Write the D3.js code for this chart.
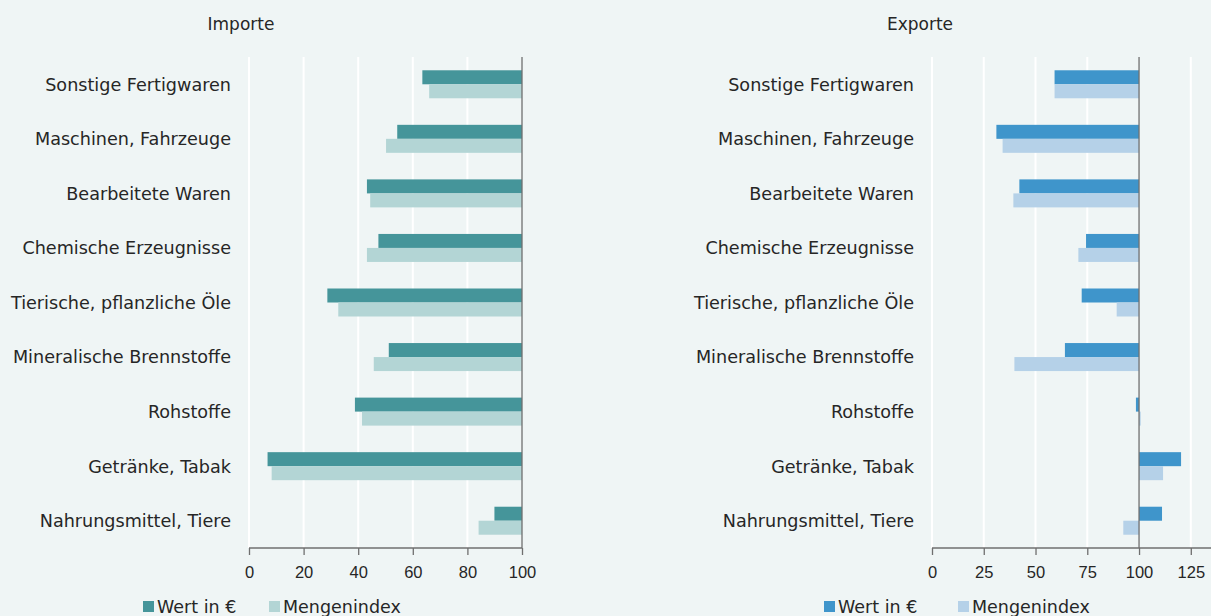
<!DOCTYPE html>
<html><head><meta charset="utf-8">
<script src="https://cdn.jsdelivr.net/npm/d3@7"></script>
<style>
html,body{margin:0;padding:0;background:#eff5f5;}
svg{display:block;font-family:"DejaVu Sans",sans-serif;}
</style></head><body>
<svg id="c" width="1211" height="616"></svg>
<script>
const categories = ["Sonstige Fertigwaren","Maschinen, Fahrzeuge","Bearbeitete Waren","Chemische Erzeugnisse","Tierische, pflanzliche Öle","Mineralische Brennstoffe","Rohstoffe","Getränke, Tabak","Nahrungsmittel, Tiere"];
const importWert = [63.5, 54.3, 43.2, 47.4, 28.7, 51.2, 38.8, 6.8, 89.9];
const importMenge = [66.0, 50.2, 44.4, 43.2, 32.7, 45.7, 41.4, 8.3, 84.1];
const exportWert = [59.2, 31.1, 42.2, 74.4, 72.3, 64.2, 98.5, 120.3, 111.1];
const exportMenge = [59.2, 34.1, 39.3, 70.7, 89.2, 39.8, 100.8, 111.6, 92.4];
const importTicks = [0, 20, 40, 60, 80, 100];
const exportTicks = [0, 25, 50, 75, 100, 125];
const seriesNames = ["Wert in €", "Mengenindex"];

const svg = d3.select("#c");
const plotTop = 57, plotBottom = 548;
const TXT = "#262626";

function panel(cfg){
  const g = svg.append("g");
  const x = d3.scaleLinear().domain(cfg.domain).range(cfg.range);
  const y = d3.scaleBand().domain(categories).range([plotTop, plotBottom]);
  g.selectAll("line.grid").data(cfg.ticks.filter(t => t !== 100)).enter().append("line")
    .attr("x1", d => x(d)).attr("x2", d => x(d)).attr("y1", plotTop).attr("y2", plotBottom)
    .attr("stroke", "#ffffff").attr("stroke-width", 2);
  const bh = 14;
  const rows = categories.map((c, i) => ({c, a: cfg.a[i], b: cfg.b[i]}));
  g.selectAll("rect.a").data(rows).enter().append("rect")
    .attr("x", d => Math.min(x(d.a), x(100))).attr("width", d => Math.abs(x(d.a) - x(100)))
    .attr("y", d => y(d.c) + y.bandwidth()/2 - bh).attr("height", bh)
    .attr("fill", cfg.colors[0]);
  g.selectAll("rect.b").data(rows).enter().append("rect")
    .attr("x", d => Math.min(x(d.b), x(100))).attr("width", d => Math.abs(x(d.b) - x(100)))
    .attr("y", d => y(d.c) + y.bandwidth()/2).attr("height", bh)
    .attr("fill", cfg.colors[1]);
  g.append("line").attr("x1", x(100)).attr("x2", x(100)).attr("y1", plotTop).attr("y2", plotBottom)
    .attr("stroke", "#6f6f6f").attr("stroke-width", 1.3);
  g.selectAll("text.cat").data(categories).enter().append("text")
    .attr("x", cfg.labelX).attr("y", d => y(d) + y.bandwidth()/2).attr("dy", "0.36em")
    .attr("text-anchor", "end").attr("font-size", 17.6).attr("fill", TXT).text(d => d);
  const ax = g.append("g").attr("transform", `translate(0,${plotBottom})`)
    .call(d3.axisBottom(x).tickValues(cfg.ticks).tickSize(7).tickPadding(11).tickFormat(d3.format("d")));
  ax.select(".domain").attr("stroke", "#6f6f6f").attr("stroke-width", 1.3)
    .attr("d", `M${cfg.range[0]},0H${cfg.range[1]}`);
  ax.selectAll(".tick line").attr("stroke", "#6f6f6f").attr("stroke-width", 1.3);
  ax.selectAll(".tick text").attr("font-size", 16.5).attr("fill", TXT).attr("font-family", null);
  g.append("text").attr("x", cfg.titleX).attr("y", 30).attr("text-anchor", "middle")
    .attr("font-size", 17).attr("fill", TXT).text(cfg.title);
  seriesNames.forEach((s, i) => {
    const lx = cfg.legendX[i];
    g.append("rect").attr("x", lx).attr("y", 601).attr("width", 11).attr("height", 11).attr("fill", cfg.colors[i]);
    g.append("text").attr("x", lx + 14).attr("y", 613).attr("font-size", 17.5).attr("fill", TXT).text(s);
  });
}

panel({domain:[0,100], range:[249,522], ticks: importTicks, a: importWert, b: importMenge,
  colors:["#45959a","#b3d5d5"], labelX: 231, title: "Importe", titleX: 241, legendX:[143, 269]});
panel({domain:[0,135], range:[932,1211.5], ticks: exportTicks, a: exportWert, b: exportMenge,
  colors:["#3f95cb","#b5d1e8"], labelX: 914, title: "Exporte", titleX: 920, legendX:[824, 958]});
</script>
</body></html>
